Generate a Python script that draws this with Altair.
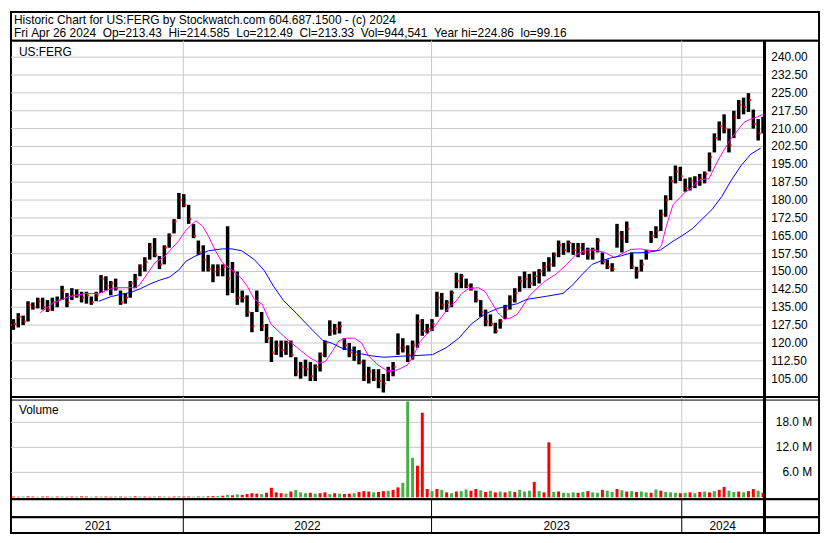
import altair as alt
import pandas as pd

TITLE_1 = "Historic Chart for US:FERG by Stockwatch.com 604.687.1500 - (c) 2024"
TITLE_2 = "Fri Apr 26 2024  Op=213.43  Hi=214.585  Lo=212.49  Cl=213.33  Vol=944,541  Year hi=224.86  lo=99.16"
SYMBOL = "US:FERG"
VOL_TITLE = "Volume"

# Weekly summary bars (x unit: trading-day position, ~1 reference pixel per day)
lows = [125.5,126.5,127.5,129,134,134.5,134,133,133.5,135,
        138,135,138,139,137,136.5,136,137.5,141,142,
        140,142,136,136.5,139,143,148,150,155,156,
        151,153,160,166,172,177,170,164,157,150,
        150,145.5,148,148,140,141,136,137,131,124.5,
        133,125,120,112,115,114,115,114,106,105,
        106,104,104,108,114,123,123.5,124,117,114,
        112.5,111,104,103,104,101,99.2,104,106,115,
        116,112,113,118,123,124,125,131,134,133,
        135,143,143,143,142,137,131,127,127,124,
        126,130,134,137,141.5,143,143,144,145,148,
        150,152,156,157,158,157,156,157,155,155,
        158,153,151,150,160,158,162,151,147,150,
        155,162,164,167,173,180,187,188,183.5,184,
        185,186,187,192,200,205,208,200,206,214,
        216,217,210,205,208]
highs = [130,132.5,131.5,137.5,137,139,139,138,139,139.5,
         144,141,143,142.5,141.5,141.5,139.5,141.5,148.5,148,
         146,147,142,141,146,149,153,156,162,164,
         156.5,161,166,172,183,182.5,178,170,163,161,
         157,153,153,153,169,154,150,142,140,133,
         142,133,128,122.5,121,121,121,121,114,112,
         113,112,111,116,121,129.5,128,129,122,120,
         118.5,117,113,110,109,109,107,110,112,124,
         122,119,121,132,130,128,130,141.5,141,138,
         142,149.5,149,147,145,142,138,134,132,128.5,
         130,136,140,143,148,150,149,150,151,154,
         156,158,163,162,163,162,162,162,160,160,
         164,158,155,153.5,170,167,171,158,152,155,
         159,167,169,176,182,190,194.5,194,189,189.5,
         190,191,192,200,208,213,216,210,217.5,222,
         223,224.9,218,214,215]
closes = [128,131,129,136,135,137.5,135,134,137,138,
          142,137,140,140,139,140,137,140,147,144,
          145,143,137,139,145,147,152,154,160,157,
          153,160,165,171,180,178,172,165,158,155,
          151,150,151,152,147,150,139,139,133,127,
          136,127,122,116,119,117,120,115,108,110,
          109,106,110,115,120,125,126,127,119,116,
          115,112,106,108,105,104,103,108,110,118,
          118,115,119,129,125,126,128,139,136,137,
          141,146,148,144,143,138,133,129,128,125,
          129,134,138,141,146,147,145,148,150,152,
          153,157,161,159,162,159,160,158,157,159,
          163,154,152,151,166,164,168,152,150,153,
          158,165,167,174,180,188,192,190,185,188,
          187,189,191,198,206,211,210,203,215,220,
          219,222,212,208,213.3]
volumes = [0.2,0.15,0.2,0.25,0.2,0.15,0.2,0.2,0.15,0.2,
           0.2,0.15,0.2,0.2,0.25,0.2,0.15,0.2,0.2,0.2,
           0.15,0.2,0.2,0.15,0.2,0.25,0.2,0.2,0.15,0.2,
           0.2,0.2,0.15,0.2,0.25,0.2,0.2,0.15,0.2,0.2,
           0.25,0.3,0.3,0.4,0.6,0.5,0.7,0.6,0.8,1.0,
           0.9,0.8,1.1,2.3,1.2,1.0,0.9,1.4,1.8,1.2,
           1.0,1.1,0.9,1.0,1.2,0.8,1.0,0.9,0.8,0.9,
           1.0,1.3,1.5,1.4,1.2,1.3,1.5,1.6,1.8,2.4,
           3.5,23.0,9.5,7.6,20.3,2.0,1.5,2.0,1.8,1.2,
           1.0,1.4,1.5,1.9,1.6,2.0,1.7,1.3,1.6,1.2,
           1.4,1.2,1.5,1.3,1.8,1.4,1.6,3.7,1.5,1.2,
           13.2,1.3,1.4,1.1,1.0,1.2,1.1,1.3,1.5,1.2,
           1.1,1.8,1.6,1.3,2.0,1.7,1.4,1.5,1.3,1.4,
           1.2,1.1,1.9,1.6,1.3,1.2,1.1,1.0,1.1,1.2,
           1.0,1.3,1.4,1.2,1.5,1.8,2.5,1.6,1.3,1.4,
           1.2,1.5,2.0,1.6,1.1]
vol_dirs = ("rrgrrgrrgr" "grrgrrgrgr" "rgrrgrgrrg" "rgrrgrrgrg" "rrgrgrgrrr"
            "rgrrrrgrgg" "grgrrgrgrr" "grrrgrrgrr" "gggrrrgrgr" "grggrrgrgr"
            "grgrgggrgr" "rgrgggrgrg" "grggrgrgrg" "grgrgggrgr" "grgrgrrggr"
            "grrgr")

ma_short_t = [30,43,60,77,90,100,107,127,132,140,148,157,163,172,180,190,197,203,210,217,
              227,237,243,250,258,267,277,287,297,307,317,323,330,337,345,353,360,367,377,387,
              397,407,413,420,427,433,440,450,457,463,470,480,487,493,500,507,513,520,533,547,
              560,570,580,590,600,610,620,630,637,647,653,663,668,673,680,687,693,700,707,717,
              720,727,733,740,747,753,760,767,772]
ma_short = [132.7,136.7,139.5,140.8,140.7,142.4,143.2,143.2,144.4,149,153.8,156,158.7,162.7,167.5,
            171.3,169,164.7,158.7,153.8,150.5,147,143.6,138.3,136.3,128,124,120.4,117,113.8,
            111.5,112.2,116.4,121,122,122,120,114.7,110.7,108.2,108.7,110.7,114.2,120.5,123.7,
            125.7,129.6,135,137.5,140.8,142.8,143.2,141.6,137.5,132.7,130,130.5,132,140,145.5,
            149,152.6,157,159,159,158,155.8,158,159.3,159.5,159,158.7,160.7,168.8,178,
            181,183.5,185.5,188.4,189,191.6,197.3,201.4,206,209.5,212.7,214,215,216]
ma_long_t = [90,103,113,123,133,143,153,163,172,180,190,203,217,227,237,250,260,270,280,293,
             307,320,330,340,350,360,370,383,400,420,433,447,460,473,487,500,520,530,550,567,
             577,587,597,607,617,627,637,653,667,680,690,700,710,720,730,740,750,760,770]
ma_long = [137.5,139.5,140.4,141.2,142.8,144.8,146.4,147.7,150.5,154.4,156.6,158.7,159.5,159.5,
           158.7,155,150.5,143.6,137.8,132.5,126.5,121.2,119.8,117.8,117,115.4,114.6,114,114.4,
           114.8,115.1,118,122,128,132.2,134.5,136.5,138.3,139.6,140.8,144.4,148.9,153,154.6,
           155.8,156.6,157.8,158,159,162.7,165.2,168,172,176,181.4,188.4,194.5,199.3,201.8]

year_labels = ["2021", "2022", "2023", "2024"]
year_bounds = [2, 177, 432, 689, 773]
price_ticks = [105.0, 112.5, 120.0, 127.5, 135.0, 142.5, 150.0, 157.5, 165.0, 172.5,
               180.0, 187.5, 195.0, 202.5, 210.0, 217.5, 225.0, 232.5, 240.0]
vol_ticks = [6, 12, 18]

# ---------------- layout / style ----------------
W = 814
H_HEAD, H_PRICE, H_VOL, H_GAP, H_YEAR = 29, 359, 103, 18, 16
AXIS_T = 774
FONT = "Liberation Sans"
GRID = "#c8c8c8"
GREEN = "#44b044"
RED = "#ff0000"

xs = alt.Scale(domain=[0, 830], nice=False, zero=False)
ys_price = alt.Scale(domain=[97.27, 246.91], nice=False, zero=False)
ys_vol = alt.Scale(domain=[-0.47, 24.05], nice=False, zero=False)

n = len(lows)
bars = pd.DataFrame({"t": [5 * k + 2.5 for k in range(n)], "low": lows, "high": highs,
                     "close": closes, "vol": volumes,
                     "dir": ["up" if c == "g" else "down" for c in vol_dirs]})
short_df = pd.DataFrame({"t": ma_short_t, "v": ma_short})
long_df = pd.DataFrame({"t": ma_long_t, "v": ma_long})
pt_df = pd.DataFrame({"p": price_ticks, "lab": [f"{v:.2f}" for v in price_ticks]})
vt_df = pd.DataFrame({"p": vol_ticks, "lab": [f"{v:.1f} M" for v in vol_ticks]})
yb_df = pd.DataFrame({"t": year_bounds[1:-1]})
yl_df = pd.DataFrame({"t": [(year_bounds[i] + year_bounds[i + 1]) / 2 for i in range(4)],
                      "lab": year_labels})
one = alt.Data(values=[{"k": 1}])


def X(field):
    return alt.X(field, type="quantitative", scale=xs, axis=None)


def XD(v):
    return alt.X(datum=v, type="quantitative", scale=xs, axis=None)


def axis_line(h):
    return alt.Chart(one).mark_rule(color="black", strokeWidth=3).encode(
        x=XD(AXIS_T), y=alt.value(0), y2=alt.value(h))


def year_lines(color, h):
    return alt.Chart(yb_df).mark_rule(color=color, strokeWidth=1).encode(
        x=X("t"), y=alt.value(0), y2=alt.value(h))


frame = alt.ViewBackground(stroke="black", strokeWidth=2, fill="white")

# ---------------- header ----------------
header = alt.layer(
    alt.Chart(one).mark_text(align="left", baseline="middle", font=FONT, fontSize=12,
                             color="black", text=TITLE_1.replace(" ", "\u00a0")).encode(
        x=alt.value(3), y=alt.value(8)),
    alt.Chart(one).mark_text(align="left", baseline="middle", font=FONT, fontSize=12,
                             color="black", text=TITLE_2.replace(" ", "\u00a0")).encode(
        x=alt.value(3), y=alt.value(21)),
).properties(width=W, height=H_HEAD, view=frame)

# ---------------- price panel ----------------
YP = lambda f: alt.Y(f, type="quantitative", scale=ys_price, axis=None)
price = alt.layer(
    alt.Chart(pt_df).mark_rule(color=GRID, strokeWidth=1).encode(
        y=YP("p"), x=XD(0), x2=alt.X2(datum=AXIS_T)),
    year_lines(GRID, H_PRICE),
    alt.Chart(bars).mark_rule(color="black", strokeWidth=3.5).encode(
        x=X("t"), y=YP("low"), y2="high"),
    alt.Chart(bars).transform_calculate(tc="datum.t + 1.5").mark_square(
        color=RED, size=4, opacity=1).encode(x=X("tc"), y=YP("close")),
    alt.Chart(short_df).mark_line(color="#ff00ff", strokeWidth=1).encode(x=X("t"), y=YP("v")),
    alt.Chart(long_df).mark_line(color="#0000ff", strokeWidth=1).encode(x=X("t"), y=YP("v")),
    axis_line(H_PRICE),
    alt.Chart(pt_df).mark_text(align="left", baseline="middle", font=FONT, fontSize=12,
                               color="black").encode(
        x=XD(781), y=YP("p"), text="lab:N"),
    alt.Chart(one).mark_text(align="left", baseline="middle", font=FONT, fontSize=12,
                             color="black", text=SYMBOL).encode(
        x=alt.value(8), y=alt.value(11)),
).properties(width=W, height=H_PRICE, view=frame)

# ---------------- volume panel ----------------
YV = lambda f: alt.Y(f, type="quantitative", scale=ys_vol, axis=None)
volume = alt.layer(
    alt.Chart(vt_df).mark_rule(color=GRID, strokeWidth=1).encode(
        y=YV("p"), x=XD(0), x2=alt.X2(datum=AXIS_T)),
    year_lines(GRID, H_VOL),
    alt.Chart(bars).mark_rule(strokeWidth=3).encode(
        x=X("t"), y=YV("vol"), y2=alt.Y2(datum=0),
        color=alt.Color("dir:N", scale=alt.Scale(domain=["up", "down"], range=[GREEN, RED]),
                        legend=None)),
    alt.Chart(one).mark_rule(color="black", strokeWidth=1).encode(
        x=alt.value(0), x2=alt.value(W), y=alt.value(3)),
    axis_line(H_VOL),
    alt.Chart(vt_df).mark_text(align="right", baseline="middle", font=FONT, fontSize=12,
                               color="black").encode(
        x=XD(823), y=YV("p"), text="lab:N"),
    alt.Chart(one).mark_text(align="left", baseline="middle", font=FONT, fontSize=12,
                             color="black", text=VOL_TITLE).encode(
        x=alt.value(8), y=alt.value(13)),
).properties(width=W, height=H_VOL, view=frame)

# ---------------- blank band and year band ----------------
blank = alt.layer(
    year_lines("black", H_GAP),
    axis_line(H_GAP),
).properties(width=W, height=H_GAP, view=frame)

years = alt.layer(
    year_lines("black", H_YEAR),
    axis_line(H_YEAR),
    alt.Chart(yl_df).mark_text(align="center", baseline="middle", font=FONT, fontSize=12,
                               color="black").encode(
        x=X("t"), y=alt.value(H_YEAR / 2 + 1), text="lab:N"),
).properties(width=W, height=H_YEAR, view=frame)

chart = alt.vconcat(header, price, volume, blank, years, spacing=0, bounds="flush").properties(
    padding={"left": 1, "top": 1, "right": 1, "bottom": 1}
).configure(background="white")

chart.save("out.html", embed_options={"renderer": "svg", "actions": False})
